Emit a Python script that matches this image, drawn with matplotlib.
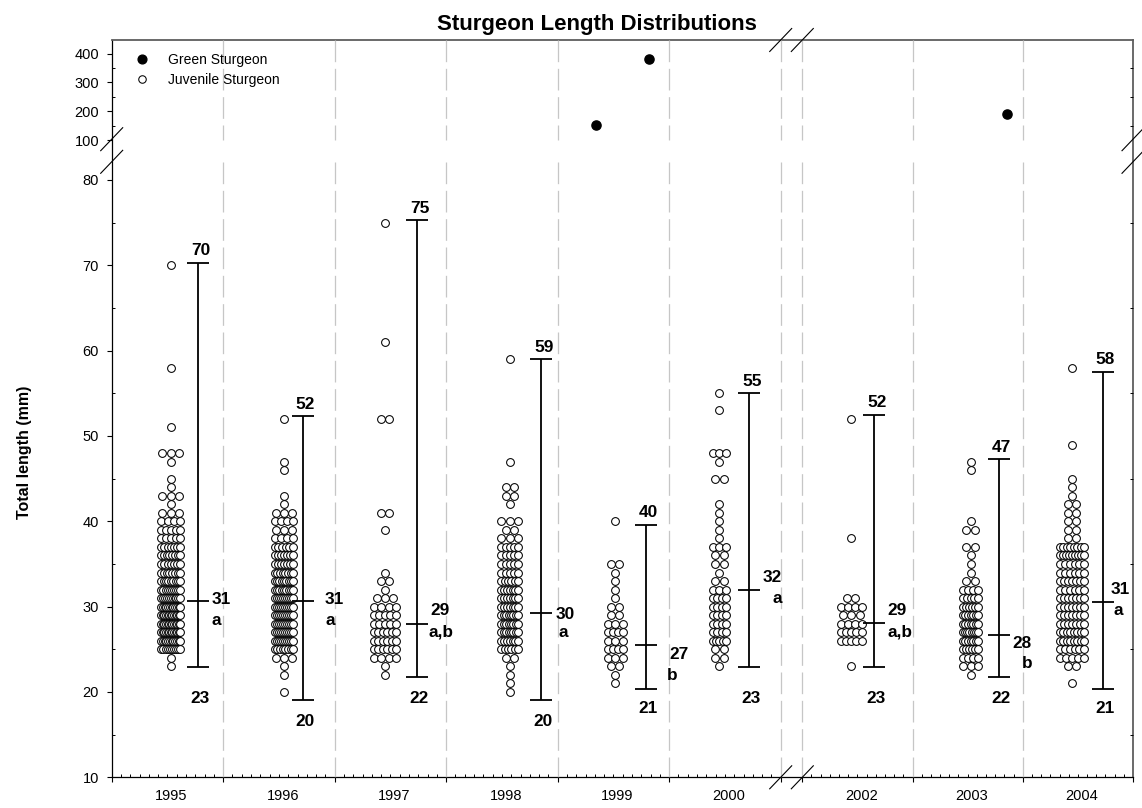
import matplotlib
matplotlib.use('Agg')
import matplotlib.pyplot as plt
import matplotlib.transforms as mtransforms
from matplotlib.lines import Line2D
from matplotlib.ticker import MultipleLocator, FixedLocator
import numpy as np

plt.rcParams['font.family'] = ['Liberation Sans', 'DejaVu Sans']
plt.rcParams['lines.scale_dashes'] = False

# ---- data ----
years = [1995, 1996, 1997, 1998, 1999, 2000, 2002, 2003, 2004]

# juvenile lengths (mm): value -> number of fish
juv_1995 = {23: 1, 24: 1, 25: 10, 26: 12, 27: 13, 28: 13, 29: 13, 30: 12, 31: 11, 32: 10,
            33: 9, 34: 8, 35: 7, 36: 8, 37: 7, 38: 5, 39: 5, 40: 4, 41: 3, 42: 1, 43: 3,
            44: 1, 45: 1, 47: 1, 48: 3, 51: 1, 58: 1, 70: 1}
juv_1996 = {20: 1, 22: 1, 23: 1, 24: 3, 25: 8, 26: 10, 27: 10, 28: 10, 29: 10, 30: 10,
            31: 10, 32: 9, 33: 9, 34: 8, 35: 7, 36: 7, 37: 6, 38: 4, 39: 3, 40: 4, 41: 3,
            42: 1, 43: 1, 46: 1, 47: 1, 52: 1}
juv_1997 = {22: 1, 23: 1, 24: 4, 25: 6, 26: 6, 27: 6, 28: 5, 29: 5, 30: 4, 31: 3, 32: 1,
            33: 2, 34: 1, 39: 1, 41: 2, 52: 2, 61: 1, 75: 1}
juv_1998 = {20: 1, 21: 1, 22: 1, 23: 1, 24: 2, 25: 6, 26: 7, 27: 8, 28: 8, 29: 8, 30: 7,
            31: 7, 32: 7, 33: 6, 34: 5, 35: 5, 36: 5, 37: 5, 38: 3, 39: 2, 40: 3, 42: 1,
            43: 2, 44: 2, 47: 1, 59: 1}
juv_1999 = {21: 1, 22: 1, 23: 2, 24: 3, 25: 4, 26: 3, 27: 4, 28: 3, 29: 2, 30: 2, 31: 1,
            32: 1, 33: 1, 34: 1, 35: 2, 40: 1}
juv_2000 = {23: 1, 24: 2, 25: 2, 26: 5, 27: 4, 28: 4, 29: 4, 30: 4, 31: 4, 32: 3, 33: 2,
            34: 1, 35: 2, 36: 2, 37: 3, 38: 1, 39: 1, 40: 1, 41: 1, 42: 1, 45: 2, 47: 1,
            48: 3, 53: 1, 55: 1}
juv_2002 = {23: 1, 26: 5, 27: 5, 28: 4, 29: 3, 30: 4, 31: 2, 38: 1, 52: 1}
juv_2003 = {22: 1, 23: 3, 24: 4, 25: 6, 26: 7, 27: 8, 28: 7, 29: 7, 30: 6, 31: 5, 32: 4,
            33: 2, 34: 1, 35: 1, 36: 1, 37: 2, 39: 2, 40: 1, 46: 1, 47: 1}
juv_2004 = {21: 1, 23: 2, 24: 5, 25: 6, 26: 8, 27: 8, 28: 7, 29: 7, 30: 7, 31: 7, 32: 6,
            33: 7, 34: 6, 35: 6, 36: 9, 37: 8, 38: 2, 39: 2, 40: 2, 41: 2, 42: 2, 43: 1,
            44: 1, 45: 1, 49: 1, 58: 1}
juvenile = [juv_1995, juv_1996, juv_1997, juv_1998, juv_1999, juv_2000, juv_2002, juv_2003, juv_2004]

# range bars (as drawn) and their printed labels
bar_hi = [70.3, 52.3, 75.3, 59.0, 39.6, 55.0, 52.5, 47.3, 57.5]
bar_mean = [30.7, 30.7, 28.0, 29.3, 25.5, 31.9, 28.1, 26.7, 30.6]
bar_lo = [22.9, 19.1, 21.7, 19.1, 20.3, 22.9, 22.9, 21.7, 20.3]
lbl_max = ['70', '52', '75', '59', '40', '55', '52', '47', '58']
lbl_mean = ['31', '31', '29', '30', '27', '32', '29', '28', '31']
lbl_min = ['23', '20', '22', '20', '21', '23', '23', '22', '21']
lbl_group = ['a', 'a', 'a,b', 'a', 'b', 'a', 'a,b', 'b', 'a']

# green sturgeon catches
green_year = [1999, 1999, 2003]
green_len = [151, 380, 190]

# ---- layout (pixels / year units) ----
W, H = 1142, 808
dot_dx = [0.03, 0.045, -0.05, 0.07, 0.015, -0.05, -0.056, 0.026, -0.053]
dot_span = [0.17, 0.165, 0.2, 0.15, 0.135, 0.12, 0.19, 0.14, 0.225]
bar_dx = [0.276, 0.212, 0.238, 0.353, 0.288, 0.22, 0.152, 0.284, 0.226]
green_dx = [-0.16, 0.32, 0.36]
min_dy = [-30, -20, -20, -20, -18, -30, -30, -20, -18]
mean_txt = [(22.7, 3, 17.7, -18), (31.3, 3, 27.3, -18), (22.7, 14.3, 24.2, -7),
            (24, 0, 22.3, -18), (33, -8, 27, -29), (23, 14.7, 27.5, -6.5),
            (22.7, 13.7, 25.7, -7.5), (22.7, -7, 27.7, -27), (17.7, 13.7, 15.7, -7.5)]


def box(x0, y0, x1, y1):
    return [x0 / W, 1 - y1 / H, (x1 - x0) / W, (y1 - y0) / H]


fig = plt.figure(figsize=(W / 100, H / 100), dpi=100)

# outer frame
frame = fig.add_axes(box(111.7, 40, 1133, 777.3))
frame.set_xticks([])
frame.set_yticks([])
frame.spines['left'].set(color='black', lw=0.9)
frame.spines['bottom'].set(color='black', lw=0.9)
frame.spines['top'].set(color='#5e5e5e', lw=1.3)
frame.spines['right'].set(color='#5e5e5e', lw=1.3)

XL, XR = (111.7, 780.7), (802.3, 1133)
YU, YL = (40, 140), (161.8, 777.3)
ax_ul = fig.add_axes(box(XL[0], YU[0], XL[1], YU[1]))
ax_ur = fig.add_axes(box(XR[0], YU[0], XR[1], YU[1]))
ax_ll = fig.add_axes(box(XL[0], YL[0], XL[1], YL[1]))
ax_lr = fig.add_axes(box(XR[0], YL[0], XR[1], YL[1]))

for ax in (ax_ul, ax_ur, ax_ll, ax_lr):
    ax.patch.set_alpha(0)
    for s in ax.spines.values():
        s.set_visible(False)
    ax.tick_params(labelsize=10.5, colors='black')

for ax in (ax_ul, ax_ll):
    ax.set_xlim(1994.5, 2000.5)
for ax in (ax_ur, ax_lr):
    ax.set_xlim(2001.5, 2004.5)
for ax in (ax_ul, ax_ur):
    ax.set_ylim(100, 447.6)
    ax.yaxis.set_major_locator(FixedLocator([100, 200, 300, 400]))
    ax.yaxis.set_minor_locator(FixedLocator([150, 250, 350]))
    ax.tick_params(axis='x', which='both', bottom=False, labelbottom=False)
for ax in (ax_ll, ax_lr):
    ax.set_ylim(10, 82.13)
    ax.yaxis.set_major_locator(MultipleLocator(10))
    ax.yaxis.set_minor_locator(MultipleLocator(5))
    ax.xaxis.set_major_locator(MultipleLocator(1, offset=0.5))
    ax.xaxis.set_minor_locator(MultipleLocator(1 / 12))
    ax.tick_params(axis='x', which='major', direction='out', length=3.6, width=0.8, labelbottom=False)
    ax.tick_params(axis='x', which='minor', direction='in', length=1.9, width=0.7)

for ax in (ax_ul, ax_ll):
    ax.tick_params(axis='y', which='major', direction='out', length=3.6, width=0.8, pad=5.5)
    ax.tick_params(axis='y', which='minor', direction='in', length=2.4, width=0.7)
for ax in (ax_ur, ax_lr):
    ax.tick_params(axis='y', which='major', left=False, right=False, labelleft=False)
    ax.tick_params(axis='y', which='minor', left=False, right=True, direction='in', length=2.4, width=0.7)

# dashed separators between years
for ax in (ax_ul, ax_ur, ax_ll, ax_lr):
    lo, hi = ax.get_xlim()
    tr = mtransforms.blended_transform_factory(ax.transData, ax.transAxes)
    for b in np.arange(lo, hi + 0.01, 1.0):
        if b in (1994.5, 2004.5):
            continue
        ax.plot([b, b], [1, 0], transform=tr, color='#c6c6c6', lw=0.9,
                dashes=(15.6, 4.8), clip_on=False, zorder=0.5)


def lower_ax(yr):
    return ax_ll if yr <= 2000 else ax_lr


# juvenile dot-density columns, range bars and labels
for i, yr in enumerate(years):
    ax = lower_ax(yr)
    cx = yr + dot_dx[i]
    xs, ys = [], []
    for v, n in sorted(juvenile[i].items()):
        if n == 1:
            off = np.array([0.0])
        else:
            step = min(0.075, dot_span[i] / (n - 1))
            off = (np.arange(n) - (n - 1) / 2) * step
        xs.extend(cx + off)
        ys.extend([v] * n)
    ax.plot(xs, ys, 'o', ls='none', ms=5.6, mfc='white', mec='black', mew=0.75, zorder=3)

    bx = yr + bar_dx[i]
    m = bar_mean[i]
    ax.errorbar([bx], [m], yerr=[[m - bar_lo[i]], [bar_hi[i] - m]], fmt='none',
                ecolor='black', elinewidth=1.3, capsize=7.8, capthick=1.3, zorder=4)
    ax.plot([bx], [m], marker='_', ms=15.6, mew=1.3, color='black', zorder=4)

    kw = dict(textcoords='offset pixels', ha='center', va='center_baseline',
              fontsize=12.4, fontweight='bold', annotation_clip=False)
    ax.annotate(lbl_max[i], (bx, bar_hi[i]), xytext=(2.5, 13.5), **kw)
    ax.annotate(lbl_min[i], (bx, bar_lo[i]), xytext=(2, min_dy[i]), **kw)
    dxn, dyn, dxl, dyl = mean_txt[i]
    ax.annotate(lbl_mean[i], (bx, m), xytext=(dxn, dyn), **kw)
    ax.annotate(lbl_group[i], (bx, m), xytext=(dxl, dyl), **kw)

    ax.annotate(str(yr), (yr, 0), xycoords=('data', 'axes fraction'), xytext=(4, -12),
                textcoords='offset pixels', ha='center', va='top', fontsize=10.5,
                annotation_clip=False)

# green sturgeon
for yr, dx, ln in zip(green_year, green_dx, green_len):
    ax = ax_ul if yr <= 2000 else ax_ur
    ax.plot([yr + dx], [ln], 'o', ms=6.6, color='black', zorder=3)

# legend
handles = [Line2D([], [], marker='o', ls='none', ms=6.3, mfc='black', mec='black'),
           Line2D([], [], marker='o', ls='none', ms=5.4, mfc='white', mec='black', mew=0.75)]
ax_ul.legend(handles, ['Green Sturgeon', 'Juvenile Sturgeon'], loc='upper left',
             bbox_to_anchor=(135 / W, 1 - 53 / H), bbox_transform=fig.transFigure,
             frameon=False, fontsize=10, handlelength=1.0, handletextpad=1.37,
             labelspacing=0.42, borderpad=0, borderaxespad=0)

# axis break marks
for cx, cy in [(111.7, 139.2), (111.7, 161.8), (1133, 139.2), (1133, 161.8),
               (780.7, 40), (802.3, 40), (780.7, 777.3), (802.3, 777.3)]:
    fig.add_artist(Line2D([(cx - 11) / W, (cx + 11) / W],
                          [1 - (cy + 11.5) / H, 1 - (cy - 11.5) / H],
                          transform=fig.transFigure, color='black', lw=0.8))

fig.text(597 / W, 1 - 30 / H, 'Sturgeon Length Distributions', ha='center',
         va='baseline', fontsize=16, fontweight='bold')
fig.text(25 / W, 1 - 452 / H, 'Total length (mm)', rotation=90, ha='center',
         va='center', fontsize=11.5, fontweight='bold')

fig.savefig('out.png', dpi=100)
